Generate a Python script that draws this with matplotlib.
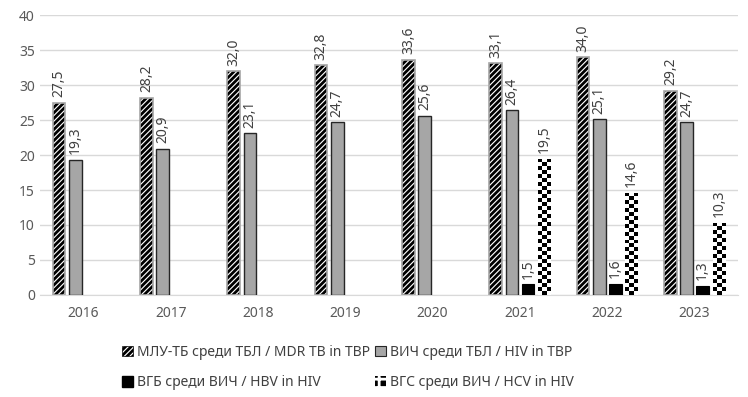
import numpy as np
import matplotlib.pyplot as plt
from matplotlib.patches import Patch

years = ['2016', '2017', '2018', '2019', '2020', '2021', '2022', '2023']
mdr_tb = [27.5, 28.2, 32.0, 32.8, 33.6, 33.1, 34.0, 29.2]
hiv_tb = [19.3, 20.9, 23.1, 24.7, 25.6, 26.4, 25.1, 24.7]
hbv_hiv = [None, None, None, None, None, 1.5, 1.6, 1.3]
hcv_hiv = [None, None, None, None, None, 19.5, 14.6, 10.3]
names = ['МЛУ-ТБ среди ТБЛ / MDR TB in TBP', 'ВИЧ среди ТБЛ / HIV in TBP',
         'ВГБ среди ВИЧ / HBV in HIV', 'ВГС среди ВИЧ / HCV in HIV']

plt.rcParams['font.family'] = ['Noto Sans', 'DejaVu Sans']
plt.rcParams['hatch.linewidth'] = 2.0

fig = plt.figure(figsize=(7.48, 3.97), dpi=100)
ax = fig.add_axes([0.053, 0.257, 0.934, 0.705])

x = np.arange(len(years))
step = 0.185
w = 0.145
txt = '#404040'

def fmt(v):
    return f'{v:.1f}'.replace('.', ',')

def draw(vals, off, **kw):
    xs = [xi + off for xi, v in zip(x, vals) if v is not None]
    vs = [v for v in vals if v is not None]
    bars = ax.bar(xs, vs, width=w, zorder=3, **kw)
    for b, v in zip(bars, vs):
        ax.annotate(fmt(v), (b.get_x() + b.get_width() / 2, v), xytext=(0, 4),
                    textcoords='offset points', rotation=90, ha='center',
                    va='bottom', fontsize=10, color=txt)
    return bars

draw(mdr_tb, -1.5 * step, color='white', edgecolor='black', hatch='//////', linewidth=0)
ax.bar([xi - 1.5 * step for xi in x], mdr_tb, width=w, fill=False,
       edgecolor='#A6A6A6', linewidth=1.2, zorder=4)
draw(hiv_tb, -0.5 * step, color='#A6A6A6', edgecolor='#262626', linewidth=1.0)
draw(hbv_hiv, 0.5 * step, color='black', edgecolor='black', linewidth=0.8)
hcv_bars = draw(hcv_hiv, 1.5 * step, color='white', edgecolor='white', linewidth=0)

ax.set_xlim(-0.5, len(years) - 0.5)
ax.set_ylim(0, 40)
fig.canvas.draw()

# checkerboard fill for the HCV bars
for b in hcv_bars:
    x0, y0 = b.get_x(), 0
    x1, y1 = x0 + b.get_width(), b.get_height()
    p0 = ax.transData.transform((x0, y0))
    p1 = ax.transData.transform((x1, y1))
    nx = max(1, int(round((p1[0] - p0[0]) / 4.0)))
    ny = max(1, int(round((p1[1] - p0[1]) / 4.0)))
    chk = (np.indices((ny, nx)).sum(axis=0) % 2).astype(float)
    im = ax.imshow(chk, cmap='gray', extent=(x0, x1, y0, y1), aspect='auto',
                   interpolation='nearest', zorder=3.5)
    im.set_clip_path(b)

ax.set_xlim(-0.5, len(years) - 0.5)
ax.set_ylim(0, 40)
ax.set_yticks(range(0, 41, 5))
ax.set_xticks(x)
ax.set_xticklabels(years)
ax.tick_params(colors='#595959', labelsize=10, length=0)
ax.tick_params(axis='x', pad=8)
ax.grid(axis='y', color='#D9D9D9', linewidth=1, zorder=0)
for s in ['top', 'right', 'left']:
    ax.spines[s].set_visible(False)
ax.spines['bottom'].set_color('#D9D9D9')

handles = [
    Patch(facecolor='white', edgecolor='black', hatch='//////', linewidth=0.5),
    Patch(facecolor='#A6A6A6', edgecolor='#262626', linewidth=0.8),
    Patch(facecolor='black', edgecolor='black'),
    Patch(facecolor='black', edgecolor='white', hatch='++', linewidth=0),
]
# legend fills column-wise, so interleave to get row-wise order
order = [0, 2, 1, 3]
fig.legend([handles[i] for i in order], [names[i] for i in order], ncol=2,
           loc='center', bbox_to_anchor=(0.465, 0.074), frameon=False,
           fontsize=10, labelcolor=txt, handlelength=0.8, handleheight=0.8,
           handletextpad=0.3, columnspacing=0.3, labelspacing=1.1)

fig.savefig('out.png', dpi=100)
